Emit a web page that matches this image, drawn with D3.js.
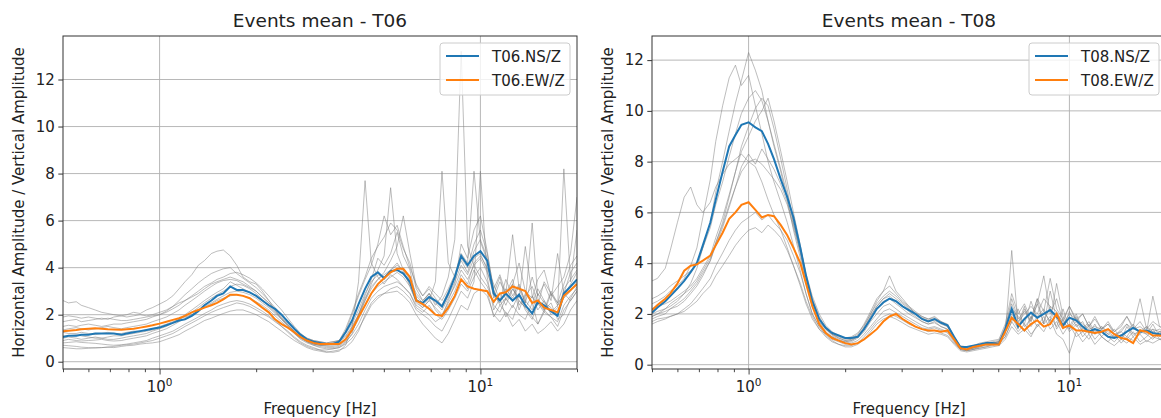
<!DOCTYPE html>
<html>
<head>
<meta charset="utf-8">
<script src="https://cdn.jsdelivr.net/npm/d3@7"></script>
<style>
  body { margin: 0; background: #fff; }
  svg text { font-family: "DejaVu Sans", sans-serif; fill: #222; }
</style>
</head>
<body>
<div id="chart"></div>
<script>
// frequency grid (Hz), shared by every curve
const freqHz = [
  0.50, 0.52, 0.55, 0.57, 0.60, 0.63, 0.66, 0.69, 0.72, 0.76,
  0.79, 0.83, 0.87, 0.91, 0.95, 1.00, 1.05, 1.10, 1.15, 1.20,
  1.26, 1.32, 1.38, 1.45, 1.51, 1.58, 1.66, 1.74, 1.82, 1.91,
  2.00, 2.09, 2.19, 2.29, 2.40, 2.51, 2.63, 2.75, 2.88, 3.02,
  3.16, 3.31, 3.47, 3.63, 3.80, 3.98, 4.17, 4.37, 4.57, 4.79,
  5.01, 5.25, 5.50, 5.75, 6.03, 6.31, 6.61, 6.92, 7.24, 7.59,
  7.94, 8.32, 8.71, 9.12, 9.55, 10.0, 10.5, 11.0, 11.5, 12.0,
  12.6, 13.2, 13.8, 14.5, 15.1, 15.8, 16.6, 17.4, 18.2, 19.1, 20.0
];

const yTicks = [0, 2, 4, 6, 8, 10, 12];
const xMajor = [1, 10];
const xMinor = [0.5, 0.6, 0.7, 0.8, 0.9, 2, 3, 4, 5, 6, 7, 8, 9, 20];

// ---- T06 ----
const t06NS = [
  1.05, 1.1, 1.1, 1.15, 1.15, 1.2, 1.2, 1.2, 1.2, 1.15,
  1.2, 1.25, 1.3, 1.35, 1.4, 1.45, 1.55, 1.65, 1.75, 1.8,
  1.95, 2.15, 2.4, 2.6, 2.8, 2.9, 3.2, 3.05, 3.05, 2.95,
  2.8, 2.6, 2.4, 2.25, 2.0, 1.7, 1.4, 1.15, 0.95, 0.85,
  0.8, 0.75, 0.75, 0.85, 1.25, 1.75, 2.45, 3.1, 3.6, 3.8,
  3.55, 3.85, 3.9, 3.75, 3.4, 2.6, 2.5, 2.75, 2.6, 2.35,
  2.9, 3.6, 4.5, 4.1, 4.5, 4.7, 4.3, 2.9, 2.6, 2.9,
  2.6, 2.85, 2.4, 2.05, 2.55, 2.4, 2.15, 1.95, 2.9, 3.2, 3.5
];
const t06EW = [
  1.3, 1.32, 1.35, 1.38, 1.4, 1.42, 1.4, 1.38, 1.37, 1.36,
  1.38, 1.4, 1.45, 1.5, 1.55, 1.62, 1.7, 1.78, 1.85, 1.95,
  2.1, 2.2, 2.3, 2.4, 2.5, 2.65, 2.85, 2.85, 2.8, 2.7,
  2.5, 2.3, 2.1, 1.8, 1.6, 1.45, 1.25, 1.05, 0.9, 0.8,
  0.75, 0.75, 0.75, 0.75, 0.95, 1.35, 1.9, 2.4, 2.9, 3.3,
  3.55, 3.8, 3.95, 3.95, 3.6, 2.6, 2.45, 2.25, 2.0, 1.95,
  2.3, 2.8, 3.5, 3.2, 3.1, 3.05, 3.0, 2.55, 2.9, 2.95,
  3.2, 3.1, 3.0, 2.5, 2.6, 2.3, 2.2, 2.1, 2.8, 3.05, 3.3
];
const t06Events = [
  [2.6, 2.5, 2.55, 2.4, 2.3, 2.2, 2.1, 2.05, 2.0, 1.95,
   1.9, 1.95, 2.0, 1.95, 2.0, 2.1, 2.2, 2.35, 2.5, 2.6,
   2.75, 2.9, 3.1, 3.3, 3.4, 3.5, 3.6, 3.5, 3.4, 3.2,
   3.0, 2.75, 2.5, 2.25, 2.0, 1.7, 1.4, 1.15, 1.0, 0.9,
   0.85, 0.8, 0.85, 0.9, 1.2, 1.6, 2.2, 2.9, 3.4, 3.7,
   3.6, 3.9, 4.2, 3.8, 3.3, 2.8, 2.5, 2.9, 2.6, 2.3,
   2.8, 3.4, 4.1, 3.7, 4.4, 4.6, 3.9, 2.8, 2.5, 3.1,
   2.7, 3.2, 2.6, 2.2, 2.9, 2.5, 2.3, 2.0, 3.1, 3.5, 3.9],
  [1.7, 1.75, 1.8, 1.7, 1.75, 1.8, 1.85, 1.8, 1.9, 1.95,
   2.0, 2.1, 2.05, 2.2, 2.3, 2.45, 2.6, 2.8, 3.1, 3.4,
   3.7, 4.1, 4.3, 4.6, 4.7, 4.75, 4.5, 4.1, 3.6, 3.4,
   3.3, 3.0, 2.6, 2.2, 1.8, 1.5, 1.2, 1.0, 0.85, 0.75,
   0.7, 0.7, 0.75, 0.9, 1.4, 2.1, 2.9, 3.6, 4.4, 4.9,
   5.3, 5.9, 5.6, 4.8, 4.2, 3.1, 2.6, 2.9, 2.4, 2.8,
   3.6, 5.2, 13.2, 4.9, 4.1, 3.6, 3.2, 2.5, 2.9, 2.4,
   3.1, 2.6, 2.3, 2.8, 2.2, 2.6, 2.1, 2.4, 2.9, 2.6, 3.0],
  [0.6, 0.58, 0.55, 0.55, 0.57, 0.6, 0.6, 0.62, 0.65, 0.7,
   0.72, 0.75, 0.8, 0.85, 0.9, 1.0, 1.1, 1.2, 1.35, 1.5,
   1.65, 1.8, 1.95, 2.1, 2.2, 2.3, 2.4, 2.5, 2.45, 2.35,
   2.2, 2.05, 1.9, 1.7, 1.5, 1.3, 1.05, 0.85, 0.7, 0.6,
   0.5, 0.42, 0.4, 0.45, 0.7, 1.5, 3.4, 7.7, 4.2, 3.6,
   3.3, 3.7, 3.5, 3.2, 2.9, 2.4, 2.2, 2.0, 1.7, 1.9,
   2.4, 2.8, 3.5, 3.1, 3.9, 3.4, 3.0, 1.9, 2.4, 2.1,
   1.8, 2.6, 2.3, 1.9, 1.6, 2.2, 2.5, 1.8, 2.0, 2.7, 3.2],
  [1.0, 1.05, 1.0, 0.95, 1.0, 1.05, 1.0, 1.05, 1.1, 1.1,
   1.15, 1.2, 1.25, 1.3, 1.35, 1.45, 1.55, 1.65, 1.8, 1.95,
   2.1, 2.3, 2.5, 2.7, 2.85, 3.0, 3.2, 3.3, 3.25, 3.1,
   2.9, 2.65, 2.4, 2.15, 1.85, 1.55, 1.3, 1.05, 0.9, 0.75,
   0.7, 0.65, 0.65, 0.7, 0.9, 1.3, 1.9, 2.6, 3.3, 3.9,
   4.5, 7.4, 4.6, 3.9, 3.2, 2.6, 2.3, 2.6, 2.3, 2.0,
   2.5, 3.0, 3.7, 3.3, 4.2, 4.5, 4.0, 3.3, 2.6, 2.9,
   3.5, 2.4, 2.8, 3.2, 2.5, 2.1, 2.9, 2.4, 2.7, 3.0, 3.4],
  [1.25, 1.2, 1.2, 1.25, 1.2, 1.15, 1.2, 1.25, 1.2, 1.2,
   1.25, 1.3, 1.3, 1.35, 1.4, 1.5, 1.6, 1.7, 1.8, 1.9,
   2.0, 2.15, 2.35, 2.5, 2.65, 2.8, 2.95, 3.0, 2.95, 2.85,
   2.7, 2.5, 2.3, 2.05, 1.8, 1.55, 1.25, 1.0, 0.85, 0.75,
   0.7, 0.7, 0.7, 0.75, 0.95, 1.3, 1.8, 2.4, 2.9, 3.2,
   3.4, 3.6, 3.8, 3.6, 3.2, 2.5, 2.3, 2.6, 3.4, 8.1,
   4.2, 3.6, 4.3, 3.8, 4.7, 5.2, 4.4, 2.7, 3.4, 2.9,
   5.4, 3.1, 2.5, 3.6, 2.8, 3.3, 2.6, 4.6, 2.9, 3.8, 4.2],
  [1.9, 1.95, 1.9, 1.85, 1.9, 1.85, 1.8, 1.85, 1.8, 1.75,
   1.75, 1.8, 1.85, 1.9, 1.95, 2.0, 2.1, 2.25, 2.4, 2.6,
   2.8, 3.0, 3.2, 3.35, 3.5, 3.6, 3.75, 3.8, 3.7, 3.55,
   3.35, 3.1, 2.8, 2.5, 2.2, 1.85, 1.5, 1.2, 1.0, 0.9,
   0.85, 0.8, 0.85, 0.9, 1.1, 1.5, 2.0, 2.6, 3.1, 3.5,
   3.8, 4.3, 4.9, 6.2, 4.6, 3.2, 2.8, 3.2, 2.9, 2.6,
   3.1, 3.7, 4.6, 4.2, 8.1, 5.1, 4.3, 2.9, 3.6, 2.6,
   3.1, 2.7, 4.9, 2.8, 2.4, 3.4, 2.9, 2.5, 3.3, 4.1, 4.5],
  [0.8, 0.82, 0.85, 0.82, 0.8, 0.78, 0.75, 0.72, 0.7, 0.72,
   0.75, 0.8, 0.85, 0.9, 1.0, 1.1, 1.2, 1.3, 1.45, 1.6,
   1.75, 1.9, 2.05, 2.2, 2.35, 2.45, 2.55, 2.6, 2.55, 2.45,
   2.3, 2.15, 1.95, 1.75, 1.5, 1.25, 1.0, 0.8, 0.65, 0.55,
   0.5, 0.5, 0.55, 0.6, 0.75, 1.0, 1.4, 1.9, 2.4, 2.7,
   2.9, 3.1, 3.2, 3.0, 2.7, 2.2, 2.0, 1.8, 1.5, 1.3,
   1.8, 2.4, 3.0, 2.7, 3.4, 8.1, 3.6, 2.2, 2.7, 1.9,
   2.4, 2.0, 1.8, 2.5, 1.6, 2.1, 1.9, 1.5, 2.2, 2.6, 3.0],
  [1.35, 1.4, 1.45, 1.4, 1.35, 1.4, 1.45, 1.5, 1.45, 1.4,
   1.45, 1.5, 1.55, 1.6, 1.7, 1.8, 1.9, 2.05, 2.2, 2.4,
   2.6, 2.8, 3.0, 3.2, 3.35, 3.45, 3.5, 3.45, 3.3, 3.15,
   3.0, 2.75, 2.5, 2.2, 1.9, 1.6, 1.3, 1.05, 0.9, 0.8,
   0.75, 0.75, 0.8, 0.85, 1.05, 1.45, 2.0, 2.7, 3.2, 3.5,
   3.7, 3.9, 4.1, 3.9, 3.5, 2.9, 2.6, 2.9, 2.5, 2.2,
   2.7, 3.2, 3.9, 3.5, 4.1, 4.4, 3.8, 3.0, 2.4, 2.7,
   3.3, 2.2, 2.9, 2.5, 3.1, 2.6, 2.0, 2.3, 8.2, 3.4, 5.6],
  [0.7, 0.68, 0.65, 0.62, 0.6, 0.58, 0.6, 0.62, 0.6, 0.65,
   0.68, 0.7, 0.75, 0.78, 0.8, 0.85, 0.95, 1.05, 1.15, 1.3,
   1.45, 1.6, 1.75, 1.85, 1.95, 2.05, 2.15, 2.2, 2.2, 2.1,
   2.0, 1.85, 1.7, 1.5, 1.3, 1.1, 0.9, 0.75, 0.6, 0.5,
   0.45, 0.4, 0.45, 0.5, 0.6, 0.85, 1.3, 2.0, 2.5, 2.8,
   2.9, 2.95, 3.0, 2.8, 2.5, 2.0, 1.6, 1.3, 1.0, 0.8,
   1.2, 1.8, 2.4, 2.2, 2.9, 3.1, 2.8, 2.0, 1.7, 2.1,
   1.5, 1.8, 1.3, 1.6, 1.2, 1.4, 1.7, 1.3, 1.6, 2.2, 2.6],
  [1.5, 1.55, 1.5, 1.55, 1.6, 1.55, 1.5, 1.55, 1.6, 1.6,
   1.65, 1.7, 1.75, 1.8, 1.9, 2.0, 2.15, 2.35, 2.6, 2.85,
   3.1, 3.35, 3.55, 3.75, 3.85, 3.95, 4.0, 3.75, 3.55, 3.35,
   3.15, 2.9, 2.6, 2.3, 2.0, 1.7, 1.4, 1.1, 0.95, 0.85,
   0.8, 0.75, 0.8, 0.9, 1.3, 2.0, 2.8, 3.5, 4.1, 5.0,
   6.2, 5.4, 5.8, 4.9, 4.0, 3.3, 2.8, 3.1, 2.7, 2.4,
   3.0, 3.6, 4.4, 4.0, 5.0, 5.6, 4.6, 3.1, 3.7, 2.9,
   3.3, 4.2, 3.0, 2.7, 3.5, 3.9, 2.8, 3.2, 3.6, 4.6, 7.0],
  [1.1, 1.1, 1.15, 1.1, 1.05, 1.0, 1.0, 0.95, 0.95, 1.0,
   1.05, 1.1, 1.15, 1.2, 1.3, 1.4, 1.5, 1.65, 1.8, 2.0,
   2.2, 2.4, 2.6, 2.8, 2.95, 3.1, 3.4, 3.25, 3.1, 2.95,
   2.8, 2.6, 2.35, 2.1, 1.85, 1.55, 1.3, 1.05, 0.85, 0.7,
   0.6, 0.55, 0.55, 0.6, 0.8, 1.2, 2.0, 2.8, 3.5, 4.4,
   4.1, 4.6, 5.5, 4.5, 3.9, 2.7, 2.4, 2.7, 2.2, 1.9,
   2.6, 3.3, 5.0, 4.4, 5.6, 6.2, 4.7, 3.0, 2.6, 3.5,
   2.8, 3.3, 2.5, 5.9, 2.7, 2.2, 3.0, 2.5, 2.8, 3.3, 3.8],
  [0.9, 0.95, 0.9, 0.88, 0.9, 0.92, 0.95, 0.9, 0.88, 0.9,
   0.95, 1.0, 1.05, 1.1, 1.2, 1.3, 1.4, 1.55, 1.7, 1.85,
   2.0, 2.15, 2.3, 2.45, 2.6, 2.7, 2.8, 2.85, 2.8, 2.7,
   2.55, 2.4, 2.2, 1.95, 1.7, 1.45, 1.2, 0.95, 0.8, 0.7,
   0.65, 0.6, 0.6, 0.65, 0.85, 1.15, 1.6, 2.2, 2.7, 3.0,
   3.2, 3.3, 3.4, 3.2, 2.9, 2.3, 2.1, 2.4, 2.0, 1.8,
   2.2, 2.7, 3.3, 3.0, 3.6, 4.0, 3.4, 2.4, 2.1, 2.7,
   2.3, 2.9, 2.2, 1.8, 2.5, 2.2, 1.9, 1.7, 2.4, 2.8, 3.1]
];

// ---- T08 ----
const t08NS = [
  2.05, 2.25, 2.5, 2.7, 3.0, 3.3, 3.65, 4.0, 4.7, 5.6,
  6.5, 7.6, 8.6, 9.05, 9.45, 9.55, 9.35, 9.2, 8.7, 8.1,
  7.3, 6.6, 5.8, 4.6, 3.5, 2.5, 1.8, 1.45, 1.25, 1.15,
  1.05, 1.05, 1.1, 1.4, 1.8, 2.2, 2.45, 2.6, 2.5, 2.3,
  2.15, 2.0, 1.8, 1.7, 1.8, 1.65, 1.55, 1.1, 0.7, 0.7,
  0.75, 0.8, 0.85, 0.85, 0.8, 1.4, 2.2, 1.5, 1.8, 2.05,
  1.85, 2.0, 2.15, 1.9, 1.55, 1.85, 1.75, 1.5, 1.3, 1.4,
  1.3, 1.1, 1.05, 1.15, 1.3, 1.45, 1.3, 1.35, 1.25, 1.2, 1.2
];
const t08EW = [
  2.15, 2.35, 2.6, 2.8, 3.2, 3.7, 3.9, 3.95, 4.1, 4.3,
  4.7, 5.2, 5.75, 6.0, 6.3, 6.4, 6.1, 5.8, 5.9, 5.85,
  5.5, 5.1, 4.6, 4.0, 3.2, 2.3, 1.6, 1.25, 1.05, 0.95,
  0.85, 0.8, 0.85, 1.0, 1.2, 1.4, 1.7, 1.9, 2.0, 1.8,
  1.65, 1.5, 1.4, 1.35, 1.35, 1.3, 1.35, 1.0, 0.65, 0.6,
  0.7, 0.75, 0.8, 0.8, 0.8, 1.3, 1.85, 1.6, 1.35, 1.6,
  1.75, 1.5, 1.6, 2.0, 1.45, 1.55, 1.35, 1.35, 1.3, 1.25,
  1.3, 1.4, 1.2, 1.05, 1.0, 0.85, 1.35, 1.3, 1.15, 1.15, 1.1
];
const t08Events = [
  [1.9, 2.0, 2.2, 2.3, 2.5, 2.8, 3.2, 3.8, 4.6, 5.6,
   6.8, 8.0, 9.2, 10.3, 11.2, 12.3, 11.6, 10.8, 9.6, 8.6,
   7.6, 6.5, 5.3, 4.2, 3.2, 2.3, 1.7, 1.4, 1.2, 1.1,
   1.0, 1.05, 1.2, 1.6, 2.1, 2.6, 2.9, 3.1, 2.8, 2.5,
   2.3, 2.1, 1.9, 1.8, 1.9, 1.7, 1.6, 1.1, 0.7, 0.65,
   0.7, 0.8, 0.85, 0.9, 0.95, 1.5, 2.4, 1.7, 2.0, 2.3,
   2.0, 2.6, 2.3, 2.1, 1.6, 2.0, 1.8, 1.6, 1.4, 1.5,
   1.4, 1.2, 1.1, 1.3, 1.6, 1.4, 1.5, 1.3, 1.4, 1.3, 1.3],
  [2.4, 2.5, 2.7, 2.9, 3.1, 3.4, 3.9, 4.6, 5.8, 7.3,
   8.8, 10.2, 11.3, 11.8, 11.0, 11.4, 10.2, 9.1, 8.0, 7.2,
   6.4, 5.6, 4.7, 3.7, 2.8, 2.0, 1.5, 1.25, 1.1, 0.95,
   0.9, 0.95, 1.1, 1.4, 1.9, 2.3, 2.6, 2.7, 2.5, 2.3,
   2.1, 1.9, 1.7, 1.6, 1.7, 1.5, 1.4, 1.0, 0.65, 0.6,
   0.65, 0.75, 0.8, 0.85, 0.9, 1.3, 1.9, 1.4, 2.2, 1.7,
   2.4, 1.6, 2.9, 1.8, 1.4, 2.1, 1.5, 1.7, 1.2, 1.6,
   1.1, 1.4, 1.2, 1.0, 1.5, 1.1, 1.4, 1.2, 1.6, 1.1, 1.3],
  [1.8, 1.9, 2.0, 2.2, 2.3, 2.5, 2.8, 3.1, 3.5, 4.1,
   4.8, 5.6, 6.6, 7.6, 8.6, 9.4, 10.1, 10.5, 10.2, 9.3,
   8.1, 6.9, 5.6, 4.4, 3.3, 2.4, 1.7, 1.3, 1.1, 0.95,
   0.85, 0.9, 1.05, 1.3, 1.7, 2.0, 2.3, 2.4, 2.2, 2.0,
   1.85, 1.7, 1.55, 1.45, 1.5, 1.4, 1.3, 0.95, 0.6, 0.55,
   0.6, 0.7, 0.75, 0.8, 0.85, 1.2, 4.5, 1.6, 1.3, 1.9,
   1.5, 1.7, 2.3, 1.4, 1.8, 1.3, 1.6, 1.1, 1.4, 1.0,
   1.3, 1.1, 0.9, 1.2, 1.0, 1.3, 0.9, 1.1, 1.4, 1.0, 1.1],
  [3.3, 3.4, 3.8, 4.5, 5.6, 6.6, 7.0, 6.3, 6.0, 6.4,
   7.0, 7.5, 7.9, 8.1, 8.3, 8.0, 7.8, 7.2, 6.5, 5.9,
   5.3, 4.6, 3.9, 3.1, 2.4, 1.8, 1.4, 1.2, 1.0, 0.9,
   0.8, 0.85, 0.95, 1.2, 1.5, 1.8, 2.1, 2.2, 2.05, 1.9,
   1.75, 1.6, 1.45, 1.4, 1.45, 1.35, 1.25, 0.9, 0.6, 0.55,
   0.6, 0.65, 0.7, 0.8, 0.85, 1.1, 1.7, 2.2, 1.5, 1.8,
   2.6, 1.6, 1.9, 1.5, 2.2, 1.4, 1.7, 1.3, 1.5, 1.2,
   1.4, 1.6, 1.2, 1.3, 1.1, 1.5, 1.3, 1.2, 1.0, 1.3, 1.2],
  [1.7, 1.8, 1.85, 1.9, 2.0, 2.1, 2.3, 2.5, 2.8, 3.1,
   3.5, 3.9, 4.3, 4.7, 5.0, 5.3, 5.4, 5.2, 5.5, 5.3,
   5.0, 4.5, 3.9, 3.2, 2.5, 1.9, 1.4, 1.1, 0.9, 0.8,
   0.7, 0.7, 0.8, 1.0, 1.3, 1.6, 1.8, 1.9, 1.8, 1.65,
   1.5, 1.4, 1.3, 1.2, 1.25, 1.2, 1.1, 0.8, 0.55, 0.5,
   0.55, 0.6, 0.65, 0.7, 0.75, 1.0, 1.5, 1.2, 1.4, 1.1,
   1.6, 1.3, 1.8, 1.2, 1.0, 0.45, 1.3, 0.9, 1.2, 0.8,
   1.1, 0.9, 0.75, 1.0, 0.85, 1.1, 0.8, 0.95, 0.85, 1.0, 0.9],
  [2.0, 2.1, 2.2, 2.4, 2.6, 2.8, 3.0, 3.3, 3.7, 4.2,
   4.8, 5.5, 6.3, 7.0, 7.6, 8.0, 8.1, 7.9, 7.6, 7.3,
   6.9, 6.3, 5.4, 4.4, 3.4, 2.5, 1.8, 1.4, 1.2, 1.05,
   0.95, 1.0, 1.15, 1.5, 2.0, 2.5, 2.9, 3.5, 2.9, 2.6,
   2.3, 2.0, 1.85, 1.75, 1.8, 1.65, 1.5, 1.05, 0.7, 0.65,
   0.7, 0.75, 0.8, 0.85, 0.9, 1.4, 2.6, 1.8, 2.1, 1.7,
   2.4, 3.5, 2.0, 2.6, 1.7, 2.3, 1.8, 2.0, 1.5, 1.8,
   1.4, 1.6, 1.3, 1.5, 1.9, 1.4, 1.7, 1.3, 2.7, 1.5, 1.4],
  [2.2, 2.3, 2.4, 2.5, 2.7, 2.9, 3.1, 3.4, 3.8, 4.3,
   5.0, 5.8, 6.7, 7.6, 8.4, 9.0, 9.6, 10.0, 10.5, 9.6,
   8.4, 7.2, 6.0, 4.7, 3.5, 2.5, 1.8, 1.4, 1.15, 1.0,
   0.9, 0.95, 1.1, 1.45, 1.9, 2.3, 2.6, 2.8, 2.6, 2.4,
   2.2, 2.0, 1.8, 1.7, 1.75, 1.6, 1.5, 1.05, 0.7, 0.6,
   0.65, 0.75, 0.8, 0.85, 0.9, 1.4, 2.2, 1.9, 1.6, 2.5,
   1.8, 2.1, 1.7, 3.2, 1.9, 1.5, 2.0, 1.4, 1.7, 1.3,
   1.5, 1.2, 1.4, 1.0, 1.3, 1.6, 1.2, 1.5, 1.3, 1.4, 1.2],
  [1.6, 1.7, 1.8, 1.9, 2.0, 2.2, 2.4, 2.7, 3.0, 3.4,
   3.9, 4.4, 4.9, 5.3, 5.6, 5.8, 6.0, 5.7, 5.9, 5.6,
   5.3, 4.9, 4.3, 3.6, 2.8, 2.0, 1.5, 1.15, 0.95, 0.8,
   0.75, 0.75, 0.85, 1.1, 1.4, 1.7, 1.9, 2.0, 1.9, 1.75,
   1.6, 1.5, 1.4, 1.3, 1.35, 1.25, 1.15, 0.85, 0.6, 0.55,
   0.6, 0.65, 0.7, 0.75, 0.8, 1.1, 1.7, 1.3, 1.6, 1.2,
   1.5, 1.9, 1.4, 1.7, 1.2, 1.6, 1.1, 1.3, 1.0, 1.4,
   1.1, 0.9, 1.2, 0.85, 1.1, 0.95, 1.2, 0.9, 1.1, 1.0, 1.0],
  [1.9, 2.0, 2.1, 2.2, 2.4, 2.6, 2.9, 3.2, 3.6, 4.1,
   4.7, 5.4, 6.2, 7.0, 7.8, 8.3, 7.9, 8.5, 8.1, 7.7,
   7.1, 6.4, 5.5, 4.5, 3.5, 2.6, 1.9, 1.45, 1.2, 1.05,
   0.95, 1.0, 1.1, 1.4, 1.8, 2.2, 2.5, 2.6, 2.4, 2.2,
   2.0, 1.85, 1.7, 1.6, 1.65, 1.5, 1.4, 1.0, 0.65, 0.6,
   0.65, 0.7, 0.8, 0.85, 0.9, 1.3, 2.0, 1.6, 2.3, 1.5,
   1.9, 2.2, 1.6, 2.0, 1.7, 1.4, 1.9, 1.3, 1.6, 1.2,
   1.5, 1.3, 1.1, 1.4, 1.6, 1.2, 1.3, 1.5, 1.1, 1.3, 1.2],
  [2.6, 2.7, 2.9, 3.1, 3.3, 3.5, 3.7, 4.0, 4.6, 5.4,
   6.3, 7.2, 8.2, 9.1, 9.9, 10.5, 10.8, 10.4, 9.6, 8.7,
   7.7, 6.7, 5.6, 4.6, 3.6, 2.7, 2.0, 1.55, 1.3, 1.15,
   1.05, 1.1, 1.25, 1.55, 2.0, 2.4, 2.7, 2.9, 2.7, 2.45,
   2.25, 2.05, 1.9, 1.8, 1.85, 1.7, 1.55, 1.1, 0.75, 0.7,
   0.75, 0.85, 0.9, 0.95, 1.0, 1.6, 2.8, 2.0, 2.4, 1.8,
   2.6, 2.1, 3.4, 2.2, 1.8, 2.3, 1.7, 2.0, 1.5, 1.9,
   1.4, 1.7, 1.3, 1.6, 1.9, 1.5, 2.6, 1.4, 1.7, 1.5, 1.4]
];

const blue = "#1f77b4";
const orange = "#ff7f0e";
const fontSize = "15px";

const svg = d3.select("#chart").append("svg")
    .attr("width", 1161)
    .attr("height", 418);

function drawPanel(cfg) {
    const top = 36, bottom = 369;

    const x = d3.scaleLog().domain([0.5, 20]).range([cfg.left, cfg.right]);
    const y = d3.scaleLinear().domain(cfg.yDomain).range([bottom, top]);

    const g = svg.append("g");

    const clipId = "clip-" + cfg.id;
    g.append("clipPath").attr("id", clipId)
      .append("rect")
        .attr("x", cfg.left).attr("y", top)
        .attr("width", cfg.right - cfg.left).attr("height", bottom - top);

    // grid
    g.append("g").selectAll("line")
        .data(yTicks)
        .enter()
      .append("line")
        .attr("x1", cfg.left).attr("x2", cfg.right)
        .attr("y1", d => y(d)).attr("y2", d => y(d))
        .attr("stroke", "#b0b0b0").attr("stroke-width", 0.9);

    g.append("g").selectAll("line")
        .data(xMajor)
        .enter()
      .append("line")
        .attr("x1", d => x(d)).attr("x2", d => x(d))
        .attr("y1", top).attr("y2", bottom)
        .attr("stroke", "#b0b0b0").attr("stroke-width", 0.9);

    const line = values => d3.line()
        .x((d, i) => x(freqHz[i]))
        .y(d => y(d))(values);

    const plot = g.append("g").attr("clip-path", `url(#${clipId})`);

    plot.selectAll("path.event")
        .data(cfg.events)
        .enter()
      .append("path")
        .attr("class", "event")
        .attr("d", d => line(d))
        .attr("fill", "none")
        .attr("stroke", "#808080")
        .attr("stroke-opacity", 0.65)
        .attr("stroke-width", 0.8);

    plot.append("path")
        .attr("d", line(cfg.ns))
        .attr("fill", "none")
        .attr("stroke", blue)
        .attr("stroke-width", 2);

    plot.append("path")
        .attr("d", line(cfg.ew))
        .attr("fill", "none")
        .attr("stroke", orange)
        .attr("stroke-width", 2);

    // spines
    g.append("rect")
        .attr("x", cfg.left).attr("y", top)
        .attr("width", cfg.right - cfg.left).attr("height", bottom - top)
        .attr("fill", "none")
        .attr("stroke", "#333")
        .attr("stroke-width", 1);

    // y axis
    const yAxis = d3.axisLeft(y)
        .tickValues(yTicks)
        .tickSize(4.7)
        .tickPadding(3.5)
        .tickSizeOuter(0);

    const yg = g.append("g")
        .attr("transform", `translate(${cfg.left}, 0)`)
        .call(yAxis);
    yg.select(".domain").remove();
    yg.selectAll(".tick line").attr("stroke", "#333");
    yg.selectAll(".tick text")
        .attr("font-size", fontSize)
        .attr("fill", "#222");

    // x axis, major and minor ticks
    const xMajorAxis = d3.axisBottom(x)
        .tickValues(xMajor)
        .tickSize(5.5)
        .tickFormat("")
        .tickSizeOuter(0);
    const xMinorAxis = d3.axisBottom(x)
        .tickValues(xMinor)
        .tickSize(3.2)
        .tickFormat("")
        .tickSizeOuter(0);

    const xg = g.append("g")
        .attr("transform", `translate(0, ${bottom})`)
        .call(xMajorAxis);
    const xgm = g.append("g")
        .attr("transform", `translate(0, ${bottom})`)
        .call(xMinorAxis);
    [xg, xgm].forEach(a => {
        a.select(".domain").remove();
        a.selectAll(".tick line").attr("stroke", "#333").attr("stroke-width", 0.9);
    });

    const labels = g.append("g").selectAll("text")
        .data(xMajor)
        .enter()
      .append("text")
        .attr("x", d => x(d))
        .attr("y", 392)
        .attr("text-anchor", "middle")
        .attr("font-size", fontSize);
    labels.append("tspan").text("10");
    labels.append("tspan")
        .attr("font-size", "10.5px")
        .attr("dy", -6)
        .text(d => Math.round(Math.log10(d)));

    // titles and axis labels
    const cx = (cfg.left + cfg.right) / 2;
    g.append("text")
        .attr("x", cx).attr("y", 27)
        .attr("text-anchor", "middle")
        .attr("font-size", "18.5px")
        .text(cfg.title);

    g.append("text")
        .attr("x", cx).attr("y", 414)
        .attr("text-anchor", "middle")
        .attr("font-size", fontSize)
        .text("Frequency [Hz]");

    g.append("text")
        .attr("transform", `translate(${cfg.left - 39}, ${(top + bottom) / 2}) rotate(-90)`)
        .attr("text-anchor", "middle")
        .attr("font-size", fontSize)
        .text("Horizontal Amplitude / Vertical Amplitude");

    // legend
    const lw = 130, lh = 52;
    const lx = cfg.right - 7 - lw, ly = top + 7;
    const leg = g.append("g");
    leg.append("rect")
        .attr("x", lx).attr("y", ly)
        .attr("width", lw).attr("height", lh)
        .attr("rx", 3)
        .attr("fill", "#fff").attr("fill-opacity", 0.8)
        .attr("stroke", "#cccccc").attr("stroke-width", 1);

    const entries = [
        { label: cfg.id + ".NS/Z", color: blue },
        { label: cfg.id + ".EW/Z", color: orange }
    ];
    entries.forEach((e, i) => {
        const yy = ly + 13 + i * 24;
        leg.append("line")
            .attr("x1", lx + 6).attr("x2", lx + 39)
            .attr("y1", yy).attr("y2", yy)
            .attr("stroke", e.color).attr("stroke-width", 2);
        leg.append("text")
            .attr("x", lx + 52).attr("y", yy + 5.5)
            .attr("font-size", fontSize)
            .text(e.label);
    });
}

drawPanel({
    id: "T06",
    title: "Events mean - T06",
    left: 63, right: 577,
    yDomain: [-0.31, 13.85],
    ns: t06NS, ew: t06EW, events: t06Events
});

drawPanel({
    id: "T08",
    title: "Events mean - T08",
    left: 652, right: 1166,
    yDomain: [-0.17, 12.95],
    ns: t08NS, ew: t08EW, events: t08Events
});
</script>
</body>
</html>
